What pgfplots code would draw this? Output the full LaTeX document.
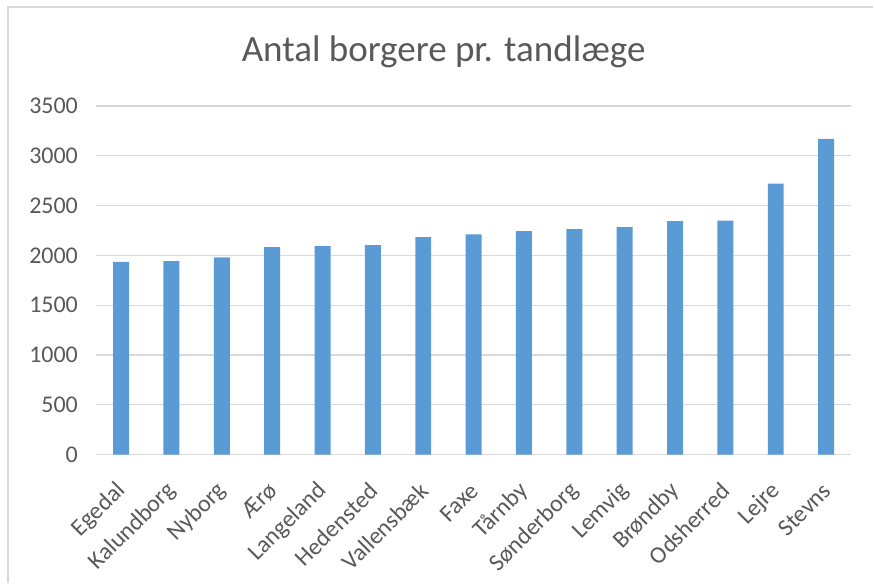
\documentclass[border=0pt]{standalone}
\usepackage{fontspec}
\setmainfont{Carlito}
\usepackage{pgfplots}
\pgfplotsset{compat=1.18}
\definecolor{barblue}{HTML}{5B9BD5}
\definecolor{txtgray}{HTML}{595959}
\definecolor{gridgray}{HTML}{D9D9D9}
\begin{document}
\begin{tikzpicture}
\path (0pt,0pt) rectangle (655.5pt,437.25pt);
\draw[gridgray, line width=1.1pt] (6pt,0pt) -- (6pt,432pt) -- (655.5pt,432pt);
\node[txtgray, font=\fontsize{27.8}{33}\selectfont] at (333pt,398.25pt) {Antal borgere pr. tandlæge};
\begin{axis}[
  at={(72pt,96pt)}, anchor=south west,
  scale only axis, width=567pt, height=261.75pt,
  ybar, bar width=12pt,
  xmin=-0.5, xmax=14.5, ymin=0, ymax=3500,
  ytick={0,500,...,3500},
  xtick=data,
  xticklabels={Egedal,Kalundborg,Nyborg,Ærø,Langeland,Hedensted,Vallensbæk,Faxe,Tårnby,Sønderborg,Lemvig,Brøndby,Odsherred,Lejre,Stevns},
  ymajorgrids, grid style={gridgray, line width=1pt},
  axis line style={draw=none},
  major tick length=0pt,
  tick label style={txtgray, font=\fontsize{18}{21}\selectfont},
  /pgf/number format/assume math mode=true,
  /pgf/number format/set thousands separator={},
  yticklabel style={xshift=-10pt},
  xticklabel style={xshift=3pt, rotate=45, anchor=east},
  xticklabel shift=22pt,
]
\addplot[fill=barblue, draw=none] coordinates {
(0,1935) (1,1943) (2,1980) (3,2083) (4,2093) (5,2103) (6,2182) (7,2211)
(8,2244) (9,2264) (10,2284) (11,2344) (12,2348) (13,2721) (14,3169)};
\end{axis}
\end{tikzpicture}
\end{document}
